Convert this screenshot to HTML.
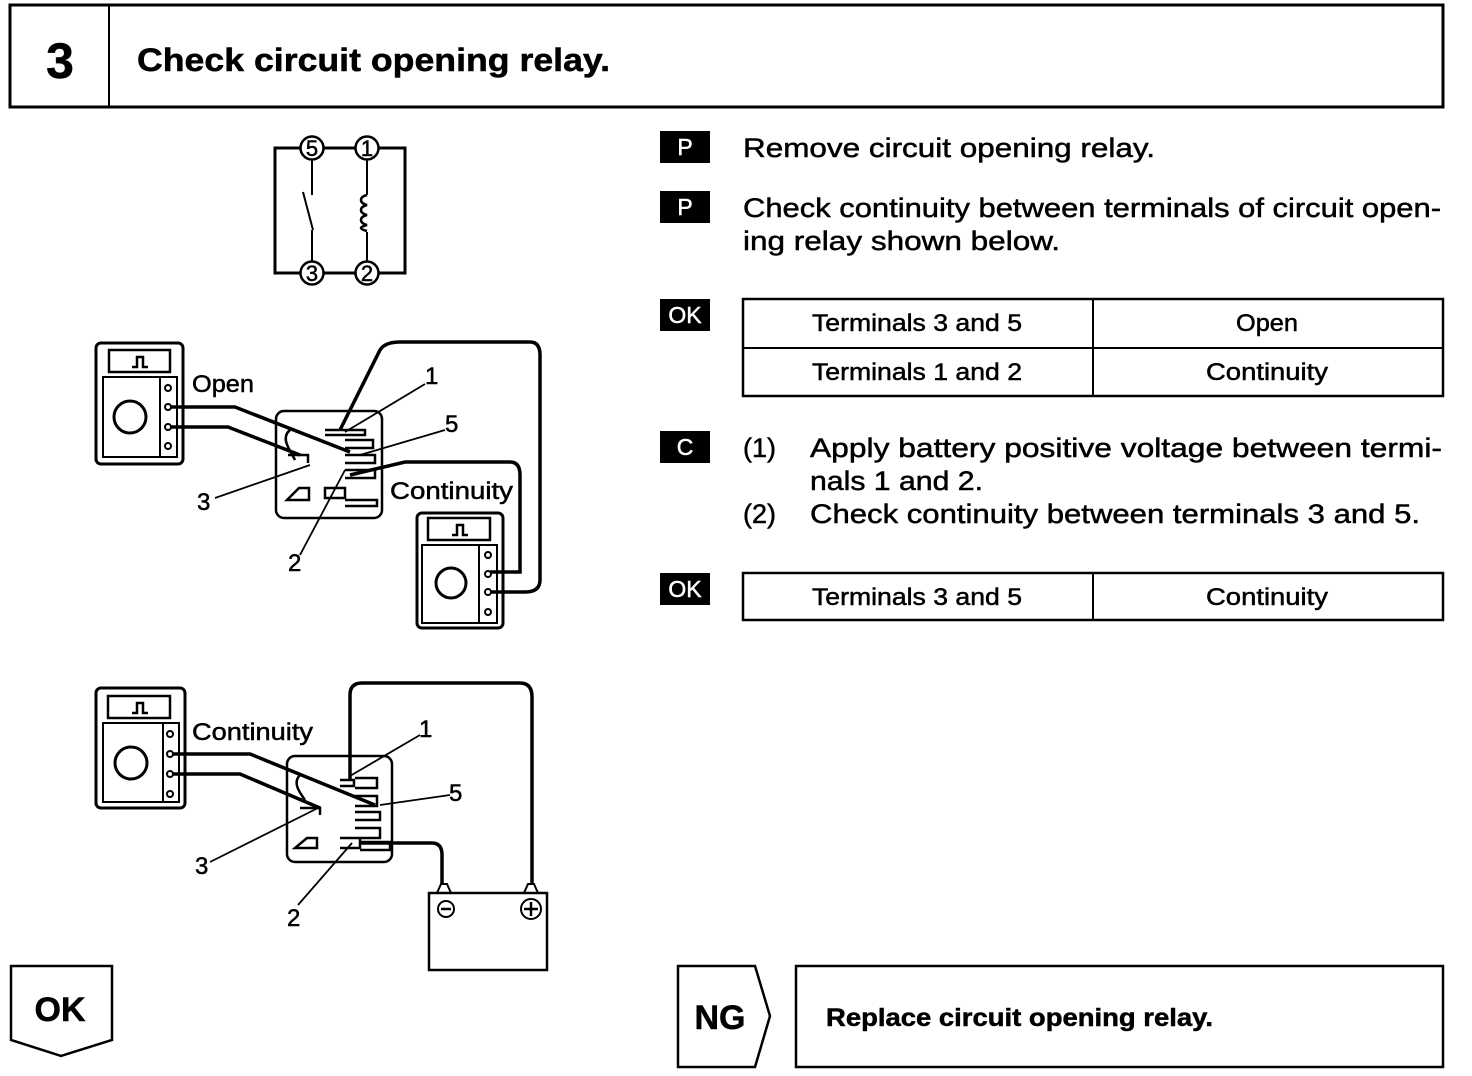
<!DOCTYPE html>
<html><head><meta charset="utf-8"><style>
html,body{margin:0;padding:0;background:#fff;}
svg{display:block;}
text{font-family:"Liberation Sans",Arial,sans-serif;fill:#000;stroke:#000;stroke-width:0.5;}
.b{font-weight:bold;}
</style></head><body>
<svg width="1472" height="1076" viewBox="0 0 1472 1076" xmlns="http://www.w3.org/2000/svg">
<g fill="none" stroke="#000">
<rect x="10" y="5" width="1433" height="102" stroke-width="3"/>
<line x1="109" y1="5" x2="109" y2="107" stroke-width="2"/>
</g>
<text x="60" y="78" font-size="50" class="b" text-anchor="middle">3</text>
<text x="137" y="71" font-size="32" class="b" textLength="473" lengthAdjust="spacingAndGlyphs">Check circuit opening relay.</text>

<!-- schematic -->
<g fill="none" stroke="#000" stroke-width="3">
<path d="M301 148 H275 V273 H301 M323 148 H356 M378 148 H405 V273 H378 M356 273 H323"/>
<circle cx="312" cy="148" r="11.5" stroke-width="2.5"/><circle cx="367" cy="148" r="11.5" stroke-width="2.5"/>
<circle cx="312" cy="273" r="11.5" stroke-width="2.5"/><circle cx="367" cy="273" r="11.5" stroke-width="2.5"/>
<path d="M312 159 V195 M303 192 L313 230 M312 230 V262" stroke-width="2"/>
<path d="M367 159 V195 M367 232 V262" stroke-width="2"/>
<path d="M367 195 c-8 2 -8 8 0 10 c-8 2 -8 8 0 10 c-8 2 -8 8 0 10 c-8 2 -8 4 0 6" stroke-width="2.5"/>
</g>
<g font-size="22" text-anchor="middle">
<text x="312" y="156">5</text><text x="367" y="156">1</text>
<text x="312" y="281">3</text><text x="367" y="281">2</text>
</g>

<g fill="none" stroke="#000" stroke-width="3">
<rect x="96" y="343" width="87" height="121" rx="5"/>
<rect x="109" y="350" width="61" height="22" stroke-width="2.5"/>
<rect x="103" y="377" width="74" height="80" stroke-width="2"/>
<line x1="160" y1="377" x2="160" y2="457" stroke-width="2"/>
<circle cx="130" cy="417" r="16"/>
<circle cx="168" cy="388" r="3" stroke-width="2"/><circle cx="168" cy="407" r="3" stroke-width="2"/>
<circle cx="168" cy="427" r="3" stroke-width="2"/><circle cx="168" cy="446" r="3" stroke-width="2"/>
<path d="M132 367 h5 v-10 h6 v10 h5" stroke-width="2.5"/>
<path d="M171 407 H235 L350 452" stroke-width="3.5"/>
<path d="M171 427 H228 L300 455" stroke-width="3.5"/>
<rect x="276" y="411" width="106" height="107" rx="8" stroke-width="2.5"/>
<path d="M290 430 c-10 8 0 20 5 30 M288 455 h20 v8 M287 500 h22 v-12 h-10 z M325 488 h20 v10 h-20 z M345 500 h32 v6 h-32 M325 430 h40 v5 h-40 M345 440 h28 v8 h-28 M345 455 h30 v8 h-30 M345 470 h30 v8 h-30" stroke-width="2.5"/>
<path d="M340 430 L380 350 Q385 342 400 342 H530 Q540 342 540 355 V580 Q540 592 525 592 H490" stroke-width="3.5"/>
<path d="M350 475 L405 462 Q412 462 420 462 H510 Q520 462 520 475 V572 H490" stroke-width="3.5"/>
<path d="M345 432 L425 384 M360 455 L445 430 M215 498 L310 465 M300 555 L345 470" stroke-width="1.8"/>
<rect x="417" y="513" width="86" height="115" rx="5"/>
<rect x="428" y="518" width="62" height="22" stroke-width="2.5"/>
<rect x="422" y="545" width="75" height="78" stroke-width="2"/>
<line x1="479" y1="545" x2="479" y2="623" stroke-width="2"/>
<circle cx="451" cy="583" r="15"/>
<circle cx="488" cy="555" r="3" stroke-width="2"/><circle cx="488" cy="574" r="3" stroke-width="2"/>
<circle cx="488" cy="592" r="3" stroke-width="2"/><circle cx="488" cy="612" r="3" stroke-width="2"/>
<path d="M452 535 h5 v-10 h6 v10 h5" stroke-width="2.5"/>

<rect x="96" y="688" width="89" height="120" rx="5"/>
<rect x="108" y="696" width="62" height="22" stroke-width="2.5"/>
<rect x="103" y="723" width="76" height="79" stroke-width="2"/>
<line x1="163" y1="723" x2="163" y2="802" stroke-width="2"/>
<circle cx="131" cy="763" r="16"/>
<circle cx="170" cy="734" r="3" stroke-width="2"/><circle cx="170" cy="754" r="3" stroke-width="2"/>
<circle cx="170" cy="774" r="3" stroke-width="2"/><circle cx="170" cy="794" r="3" stroke-width="2"/>
<path d="M132 713 h5 v-10 h6 v10 h5" stroke-width="2.5"/>
<path d="M173 754 H250 L375 805" stroke-width="3.5"/>
<path d="M173 774 H240 L320 808" stroke-width="3.5"/>
<rect x="287" y="756" width="105" height="106" rx="8" stroke-width="2.5"/>
<path d="M300 775 c-8 8 0 18 5 25 M300 808 h20 v7 M295 848 h22 v-10 h-10 z M340 838 h20 v10 h-20 M360 842 h30 v8 h-30 M340 780 h14 v6 h-14 M355 778 h22 v10 h-22 M355 796 h22 v10 h-22 M355 812 h25 v8 h-25 M355 828 h25 v10 h-25" stroke-width="2.5"/>
<path d="M350 780 V695 Q350 683 362 683 H520 Q532 683 532 697 V885" stroke-width="3.5"/>
<path d="M360 843 H432 Q442 843 442 855 V885" stroke-width="3.5"/>
<path d="M350 776 L420 735 M380 805 L450 795 M210 862 L318 808 M298 905 L352 843" stroke-width="1.8"/>
<rect x="429" y="893" width="118" height="77" stroke-width="2.5"/>
<path d="M437 893 l4 -9 h6 l4 9 M524 893 l4 -9 h6 l4 9" stroke-width="2"/>
<circle cx="446" cy="909" r="8" stroke-width="2"/><circle cx="531" cy="909" r="10" stroke-width="2"/>
<path d="M441 909 h10 M524 909 h14 M531 902 v14" stroke-width="2.5"/>

<rect x="743" y="299" width="700" height="97" stroke-width="2.5"/>
<line x1="743" y1="348" x2="1443" y2="348" stroke-width="2"/>
<line x1="1093" y1="299" x2="1093" y2="396" stroke-width="2"/>
<rect x="743" y="573" width="700" height="47" stroke-width="2.5"/>
<line x1="1093" y1="573" x2="1093" y2="620" stroke-width="2"/>

<path d="M11 966 H112 V1040 L61 1056 L11 1040 Z" stroke-width="2.5"/>
<path d="M678 966 H755 L770 1016 L755 1067 H678 Z" stroke-width="2.5"/>
<rect x="796" y="966" width="647" height="101" stroke-width="2.5"/>
</g>

<g font-size="24">
<text x="192" y="392" textLength="62" lengthAdjust="spacingAndGlyphs">Open</text>
<text x="390" y="499" textLength="123" lengthAdjust="spacingAndGlyphs">Continuity</text>
<text x="192" y="740" textLength="121" lengthAdjust="spacingAndGlyphs">Continuity</text>
<text x="425" y="384">1</text><text x="445" y="432">5</text>
<text x="197" y="510">3</text><text x="288" y="571">2</text>
<text x="419" y="737">1</text><text x="449" y="801">5</text>
<text x="195" y="874">3</text><text x="287" y="926">2</text>
</g>

<g fill="#000">
<rect x="660" y="131" width="50" height="32"/>
<rect x="660" y="191" width="50" height="32"/>
<rect x="660" y="299" width="50" height="32"/>
<rect x="660" y="431" width="50" height="32"/>
<rect x="660" y="573" width="50" height="32"/>
</g>
<g font-size="23" text-anchor="middle">
<text x="685" y="155" style="fill:#fff;stroke:#fff">P</text>
<text x="685" y="215" style="fill:#fff;stroke:#fff">P</text>
<text x="685" y="323" style="fill:#fff;stroke:#fff">OK</text>
<text x="685" y="455" style="fill:#fff;stroke:#fff">C</text>
<text x="685" y="597" style="fill:#fff;stroke:#fff">OK</text>
</g>

<g font-size="27">
<text x="743" y="157" textLength="412" lengthAdjust="spacingAndGlyphs">Remove circuit opening relay.</text>
<text x="743" y="217" textLength="698" lengthAdjust="spacingAndGlyphs">Check continuity between terminals of circuit open-</text>
<text x="743" y="250" textLength="317" lengthAdjust="spacingAndGlyphs">ing relay shown below.</text>
<text x="743" y="457">(1)</text>
<text x="810" y="457" textLength="632" lengthAdjust="spacingAndGlyphs">Apply battery positive voltage between termi-</text>
<text x="810" y="490" textLength="173" lengthAdjust="spacingAndGlyphs">nals 1 and 2.</text>
<text x="743" y="523">(2)</text>
<text x="810" y="523" textLength="610" lengthAdjust="spacingAndGlyphs">Check continuity between terminals 3 and 5.</text>
</g>
<g font-size="24">
<text x="812" y="331" textLength="210" lengthAdjust="spacingAndGlyphs">Terminals 3 and 5</text>
<text x="1236" y="331" textLength="62" lengthAdjust="spacingAndGlyphs">Open</text>
<text x="812" y="380" textLength="210" lengthAdjust="spacingAndGlyphs">Terminals 1 and 2</text>
<text x="1206" y="380" textLength="122" lengthAdjust="spacingAndGlyphs">Continuity</text>
<text x="812" y="605" textLength="210" lengthAdjust="spacingAndGlyphs">Terminals 3 and 5</text>
<text x="1206" y="605" textLength="122" lengthAdjust="spacingAndGlyphs">Continuity</text>
</g>

<text x="60" y="1021" font-size="34" class="b" text-anchor="middle">OK</text>
<text x="720" y="1029" font-size="34" class="b" text-anchor="middle">NG</text>
<text x="826" y="1026" font-size="25" class="b" textLength="387" lengthAdjust="spacingAndGlyphs">Replace circuit opening relay.</text>
</svg>
</body></html>
